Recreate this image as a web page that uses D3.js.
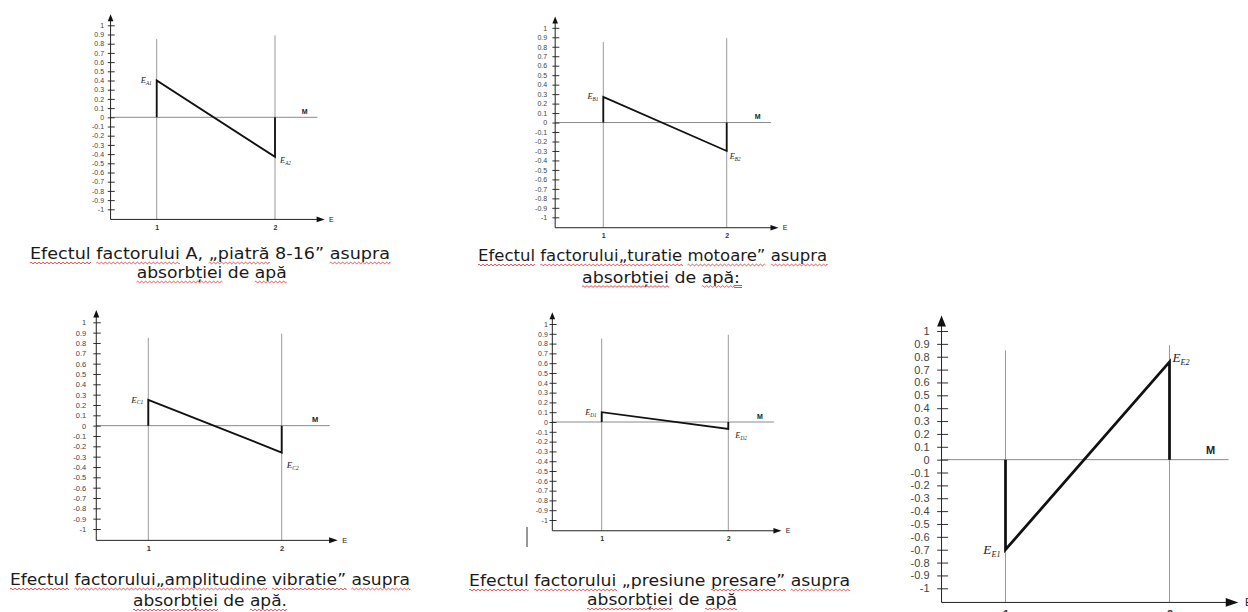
<!DOCTYPE html>
<html><head><meta charset="utf-8">
<script src="https://cdn.jsdelivr.net/npm/d3@7"></script>
<style>html,body{margin:0;padding:0;background:#fff;} svg{display:block}</style>
</head><body>
<svg id="chart" width="1248" height="612"></svg>
<script>
// ---------- data ----------
const panelIds = ["A", "B", "C", "D", "E"];
const levels = [1, 2];
const levelLabels = ["1", "2"];
const effectLevel1 = [0.40, 0.27, 0.25, 0.10, -0.70];
const effectLevel2 = [-0.43, -0.30, -0.26, -0.07, 0.76];
const yTicks = [-1, -0.9, -0.8, -0.7, -0.6, -0.5, -0.4, -0.3, -0.2, -0.1, 0,
                0.1, 0.2, 0.3, 0.4, 0.5, 0.6, 0.7, 0.8, 0.9, 1];
const yTickLabels = ["-1", "-0.9", "-0.8", "-0.7", "-0.6", "-0.5", "-0.4", "-0.3", "-0.2", "-0.1", "0",
                     "0.1", "0.2", "0.3", "0.4", "0.5", "0.6", "0.7", "0.8", "0.9", "1"];
const axisNameY = "M";
const axisNameX = "E";
// caption lines: "~" marks a word with a red spell-check underline, "^" a blue one
const captionLines = [
  "~Efectul ~factorului A, ~„piatră 8-16” ~asupra",
  "~absorbției de ~apă",
  "~Efectul ~factorului„turatie ~motoare” ~asupra",
  "~absorbției de ~apă^:",
  "~Efectul ~factorului„amplitudine ~vibratie” ~asupra",
  "~absorbției de ~apă.",
  "~Efectul ~factorului „presiune ~presare” ~asupra",
  "~absorbției de ~apă"
];

// ---------- layout (positions only) ----------
const layout = [
  {x1: 156.7, x2: 275.0, yLo: 209.3, yHi: 25.3, fs: 7,   gap: 6.5, e2dx: 5, e2dy: 4},
  {x1: 603.3, x2: 726.7, yLo: 217.3, yHi: 27.8, fs: 7,   gap: 8,   e2dx: 3, e2dy: 6},
  {x1: 148.3, x2: 281.7, yLo: 529.0, yHi: 322.3, fs: 7.5, gap: 10,  e2dx: 5, e2dy: 13},
  {x1: 601.7, x2: 728.3, yLo: 520.0, yHi: 324.0, fs: 7,   gap: 4.5, e2dx: 7, e2dy: 7},
  {x1: 1005.5, x2: 1169.5, yLo: 588.3, yHi: 331.0, fs: 11, gap: 12, e2dx: 3, e2dy: -4}
];
const captionLayout = [
  {x0: 30, x1: 390, y: 259},
  {x0: 136.7, x1: 286.7, y: 278},
  {x0: 478, x1: null, y: 261},
  {x0: 582, x1: 740, y: 282.5},
  {x0: 10, x1: 410, y: 585},
  {x0: 133, x1: 287, y: 606},
  {x0: 469, x1: 850, y: 586},
  {x0: 587, x1: 737, y: 605}
];

const svg = d3.select("#chart");
const tickFont = "'Liberation Sans', Arial, sans-serif";
const serifFont = "'Liberation Serif', 'Times New Roman', serif";

panelIds.forEach((id, i) => {
  const L = layout[i];
  const fs = L.fs;
  const x = d3.scaleLinear().domain([levels[0], levels[1]]).range([L.x1, L.x2]);
  const y = d3.scaleLinear().domain([-1, 1]).range([L.yLo, L.yHi]);
  const g = svg.append("g").attr("class", "panel-" + id);

  const axisX = x(0.61), axisY = y(-1.11), topY = y(1.12), rightX = x(2.42);
  const ah = fs * 1.0, aw = fs * 0.4;

  // vertical guide lines at levels 1 and 2
  const guideTop = [0.85, 0.89];
  g.selectAll("line.guide").data(levels).join("line")
    .attr("class", "guide")
    .attr("x1", d => x(d)).attr("x2", d => x(d))
    .attr("y1", (d, k) => y(guideTop[k])).attr("y2", axisY)
    .attr("stroke", "#9a9a9a").attr("stroke-width", 1);

  // zero line
  g.append("line")
    .attr("x1", axisX).attr("x2", x(2.36))
    .attr("y1", y(0)).attr("y2", y(0))
    .attr("stroke", "#8a8a8a").attr("stroke-width", 1);

  // y axis ticks + labels
  const t1 = fs * 0.4, t2 = fs * 0.6;
  const yAxis = d3.axisLeft(y).tickValues(yTicks)
    .tickFormat((d, k) => yTickLabels[k])
    .tickSize(-(t1 + t2)).tickPadding(L.gap - t1);
  const ya = g.append("g").attr("transform", `translate(${axisX - t1},0)`).call(yAxis);
  ya.select(".domain").remove();
  ya.selectAll(".tick line").attr("stroke", "#333");
  ya.selectAll(".tick text").attr("fill", "#444")
    .style("font-family", tickFont).style("font-size", fs + "px");

  // y axis line + arrow
  g.append("line").attr("x1", axisX).attr("x2", axisX)
    .attr("y1", axisY).attr("y2", topY + ah * 0.8)
    .attr("stroke", "#222").attr("stroke-width", 1);
  g.append("path")
    .attr("d", `M${axisX},${topY}L${axisX - aw},${topY + ah}L${axisX + aw},${topY + ah}Z`)
    .attr("fill", "#111");

  // x axis line + arrow
  g.append("line").attr("x1", axisX).attr("x2", rightX - ah * 0.8)
    .attr("y1", axisY).attr("y2", axisY)
    .attr("stroke", "#222").attr("stroke-width", 1);
  g.append("path")
    .attr("d", `M${rightX},${axisY}L${rightX - ah * 1.15},${axisY - aw}L${rightX - ah * 1.15},${axisY + aw}Z`)
    .attr("fill", "#111");

  // x tick labels
  const xAxis = d3.axisBottom(x).tickValues(levels)
    .tickFormat((d, k) => levelLabels[k]).tickSize(0).tickPadding(fs * 0.74);
  const xa = g.append("g").attr("transform", `translate(0,${axisY})`).call(xAxis);
  xa.select(".domain").remove();
  xa.selectAll(".tick text").attr("fill", "#333")
    .style("font-family", tickFont).style("font-size", fs + "px").style("font-weight", "bold");

  // axis names
  g.append("text").attr("x", x(2.25)).attr("y", y(0) - fs * 0.5)
    .attr("text-anchor", "middle").attr("fill", "#222")
    .style("font-family", tickFont).style("font-size", fs + "px").style("font-weight", "bold")
    .text(axisNameY);
  g.append("text").attr("x", rightX + fs * 0.6).attr("y", axisY + fs * 0.35)
    .attr("fill", "#222")
    .style("font-family", tickFont).style("font-size", fs + "px")
    .text(axisNameX);

  // effect path: 0 -> E1 at level 1, E1 -> E2, E2 -> 0 at level 2
  const pts = [[levels[0], 0], [levels[0], effectLevel1[i]], [levels[1], effectLevel2[i]], [levels[1], 0]];
  const line = d3.line().x(d => x(d[0])).y(d => y(d[1]));
  g.append("path").attr("d", line(pts))
    .attr("fill", "none").attr("stroke", "#111")
    .attr("stroke-width", Math.max(1.8, fs * 0.25))
    .attr("stroke-linejoin", "miter");

  // effect labels
  const lfs = fs * 1.2;
  const addLabel = (xx, yy, anchor, sub) => {
    const t = g.append("text").attr("x", xx).attr("y", yy).attr("text-anchor", anchor)
      .attr("fill", "#222")
      .style("font-family", serifFont).style("font-style", "italic").style("font-size", lfs + "px");
    t.append("tspan").text("E");
    t.append("tspan").attr("dy", lfs * 0.22).style("font-size", (lfs * 0.62) + "px").text(sub);
  };
  addLabel(x(levels[0]) - 5, y(effectLevel1[i]) + lfs * 0.3, "end", id + "1");
  addLabel(x(levels[1]) + L.e2dx, y(effectLevel2[i]) + L.e2dy + lfs * 0.3, "start", id + "2");
});

// stray text cursor bar next to caption D
svg.append("line").attr("x1", 527).attr("x2", 527).attr("y1", 527).attr("y2", 547)
  .attr("stroke", "#333").attr("stroke-width", 1);

// ---------- captions ----------
function wavy(x0, x1, yy) {
  const p = d3.path();
  const step = 2;
  p.moveTo(x0, yy);
  let up = true;
  for (let xx = x0; xx < x1; xx += step) {
    const nx = Math.min(x1, xx + step);
    p.quadraticCurveTo((xx + nx) / 2, yy + (up ? -1.6 : 1.6), nx, yy);
    up = !up;
  }
  return p.toString();
}

captionLines.forEach((raw, li) => {
  const C = captionLayout[li];
  const segs = [];
  raw.split(" ").forEach((w, wi) => {
    if (wi > 0) segs.push({t: " ", u: null});
    w.split("^").forEach((part, pi) => {
      if (pi > 0) { segs.push({t: part, u: "b"}); return; }
      if (part.startsWith("~")) segs.push({t: part.slice(1), u: "r"});
      else if (part.length) segs.push({t: part, u: null});
    });
  });
  const full = segs.map(s => s.t).join("");
  const t = svg.append("text").attr("x", C.x0).attr("y", C.y)
    .attr("fill", "#1a1a1a")
    .style("font-family", "'DejaVu Sans', Verdana, sans-serif").style("font-size", "16.5px")
    .text(full);
  if (C.x1 !== null) t.attr("textLength", C.x1 - C.x0).attr("lengthAdjust", "spacingAndGlyphs");
  const node = t.node();
  let idx = 0;
  segs.forEach(s => {
    const n = s.t.length;
    if (s.u && n > 0) {
      const xs = node.getStartPositionOfChar(idx).x;
      const xe = node.getEndPositionOfChar(idx + n - 1).x;
      if (s.u === "r") {
        svg.append("path").attr("d", wavy(xs, xe, C.y + 4))
          .attr("fill", "none").attr("stroke", "#e0393e").attr("stroke-width", 0.9);
      } else {
        svg.append("line").attr("x1", xs).attr("x2", xe + 2).attr("y1", C.y + 3).attr("y2", C.y + 3)
          .attr("stroke", "#4a7bd6").attr("stroke-width", 1);
        svg.append("line").attr("x1", xs).attr("x2", xe + 2).attr("y1", C.y + 5).attr("y2", C.y + 5)
          .attr("stroke", "#4a7bd6").attr("stroke-width", 1);
      }
    }
    idx += n;
  });
});
</script>
</body></html>
